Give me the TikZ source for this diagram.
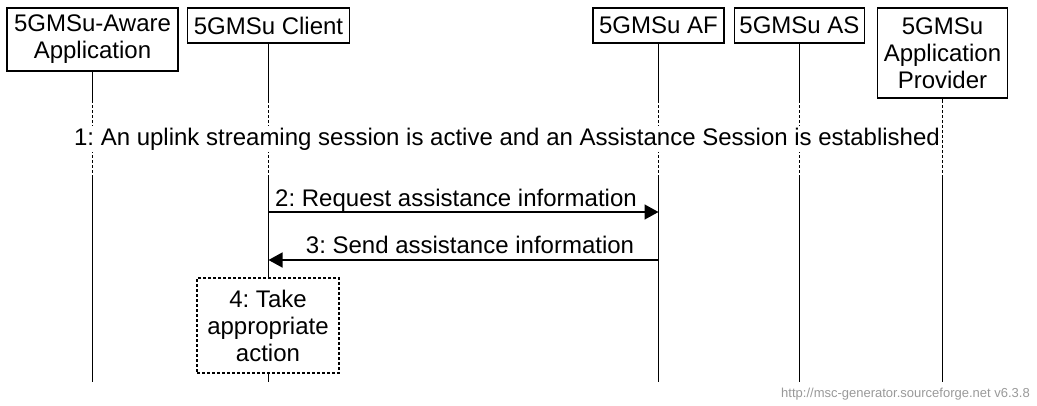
\documentclass[tikz,border=0pt]{standalone}
\usepackage{fontspec}
\setmainfont{Liberation Sans}
\usetikzlibrary{arrows.meta}
\frenchspacing
\begin{document}
\begin{tikzpicture}[x=1pt,y=-1pt,
  ent/.style={draw,line width=1.5pt,fill=white,inner sep=0pt,align=center,font=\fontsize{24}{27}\selectfont},
  life/.style={line width=1.5pt},
  lifedash/.style={line width=1.3pt,dash pattern=on 3pt off 2pt},
  msg/.style={line width=1.5pt,-{Triangle[length=14pt,width=15pt]}},
  lbl/.style={anchor=base,inner sep=0pt,font=\fontsize{24}{27}\selectfont},
  actbox/.style={draw,line width=1.2pt,dash pattern=on 3pt off 2pt,fill=white,inner sep=0pt,align=center,font=\fontsize{24}{27}\selectfont}]
\useasboundingbox (0,0) rectangle (1037,405);
% entity boxes
\node[ent,minimum width=171pt,minimum height=63pt] (A) at (92.5,39.5) {5GMSu-Aware\\Application};
\node[ent,minimum width=162pt,minimum height=35pt] (B) at (268.5,25.5) {5GMSu Client};
\node[ent,minimum width=131pt,minimum height=35pt] (AF) at (658.5,25.5) {5GMSu AF};
\node[ent,minimum width=130pt,minimum height=35pt] (AS) at (799.5,25.5) {5GMSu AS};
\node[ent,minimum width=130pt,minimum height=90pt] (AP) at (942.5,53) {5GMSu\\Application\\Provider};
% lifeline coordinates
\foreach \n/\x in {A/92.5,B/268.5,AF/658.5,AS/799.5,AP/942.5}{
  \coordinate (\n d1) at (\x,100);
  \coordinate (\n d2) at (\x,177);
  \coordinate (\n e) at (\x,382);
}
\foreach \n in {A,B,AF,AS,AP}{
  \draw[life] (\n.south) -- (\n d1);
  \draw[lifedash] (\n d1) -- (\n d2);
  \draw[life] (\n d2) -- (\n e);
}
% 1: note across
\node[lbl,fill=white,inner ysep=2pt] (n1) at (507,145) {1: An uplink streaming session is active and an Assistance Session is established};
% 2
\coordinate (B2) at (268.5,212);
\coordinate (AF2) at (658.5,212);
\draw[msg] (B2) -- (AF2);
\node[lbl] (l2) at (456,206) {2: Request assistance information};
% 3
\coordinate (AF3) at (658.5,260);
\coordinate (B3) at (268.5,260);
\draw[msg] (AF3) -- (B3);
\node[lbl] (l3) at (470,253) {3: Send assistance information};
% 4
\node[actbox,minimum width=142pt,minimum height=95pt] (act) at (268,325.5) {4: Take\\appropriate\\action};
% footer
\node[anchor=base east,inner sep=0pt,text=black!40,font=\fontsize{13}{15}\selectfont] (ft) at (1030,397) {http://msc-generator.sourceforge.net v6.3.8};
\end{tikzpicture}
\end{document}
